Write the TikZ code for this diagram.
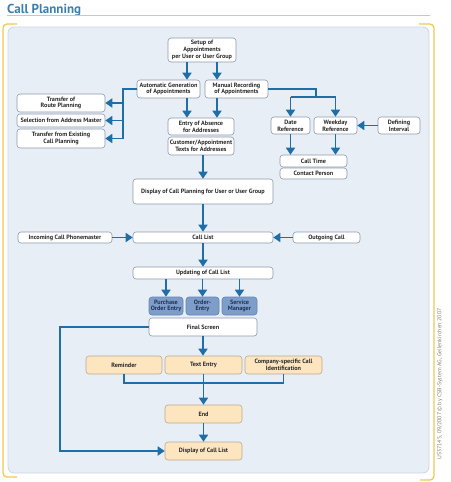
\documentclass[tikz,border=0pt]{standalone}
\usepackage{fontspec}
\setmainfont{PT Sans}
\usepackage{xcolor}
\usetikzlibrary{arrows.meta,positioning,calc}
\definecolor{flowblue}{HTML}{1F6EA8}
\definecolor{titleblue}{HTML}{3C7FAF}
\definecolor{framey}{HTML}{F0C94E}
\definecolor{panelbg}{HTML}{E8EEF6}
\definecolor{panelline}{HTML}{CCD5E0}
\definecolor{boxline}{HTML}{8E9AAB}
\definecolor{boxtext}{HTML}{2A2A2A}
\definecolor{modfill}{HTML}{7E9DC9}
\definecolor{modline}{HTML}{6285B3}
\definecolor{modtext}{HTML}{1F3358}
\definecolor{endfill}{HTML}{FCE5BF}
\definecolor{endline}{HTML}{B8AB90}

\begin{document}
\begin{tikzpicture}[x=1pt, y=-1pt,
  box/.style={draw=boxline, fill=white, rounded corners=3pt, line width=0.6pt, align=center, inner sep=0.5pt,
    text=boxtext, font=\fontsize{6.2}{6.8}\selectfont\bfseries},
  sz/.style 2 args={minimum width=#1pt, minimum height=#2pt},
  modbox/.style={box, draw=modline, fill=modfill, text=modtext},
  endbox/.style={box, draw=endline, fill=endfill},
  flow/.style={draw=flowblue, line width=1.7pt},
  arr/.style={flow, -{Triangle[length=7pt,width=9pt]}}]
  \useasboundingbox (0,0) rectangle (450,482);
  \node[anchor=base west, inner sep=0, text=titleblue, font=\fontsize{13}{14}\selectfont\bfseries] (title) at (7,13) {Call Planning};
  \draw[framey, line width=0.5pt] (7,15.5) -- (430,15.5);
  \draw[framey, line width=1.3pt, rounded corners=4pt] (17,24) -- (3,24) -- (3,477) -- (17,477);
  \draw[framey, line width=1.3pt, rounded corners=4pt] (419,24) -- (434,24) -- (434,480) -- (420,480);
  \draw[panelline, fill=panelbg, line width=0.8pt, rounded corners=6pt] (8,27) rectangle (429,473);
  \node[rotate=90, text=black!50, font=\fontsize{5.8}{6}\selectfont] (credit) at (440,384) {US37145, 09/2007 \textcopyright{} by CSB-System AG, Geilenkirchen 2007};

  \node[box, sz={68}{24}] (setup) at (202,50) {Setup of\\Appointments\\per User or User Group};
  \node[box, sz={63}{18}] (autogen) at (168.5,89) {Automatic Generation\\of Appointments};
  \node[box, sz={63}{18}] (manual) at (236.5,89) {Manual Recording\\of Appointments};
  \node[box, sz={88}{18}] (route) at (61,103) {Transfer of\\Route Planning};
  \node[box, sz={88}{13}] (addrmaster) at (61,120.5) {Selection from Address Master};
  \node[box, sz={88}{19}] (existing) at (61,138.5) {Transfer from Existing\\Call Planning};
  \node[box, sz={66}{17}] (absence) at (201,126.5) {Entry of Absence\\for Addresses};
  \node[box, sz={66}{18}] (custtext) at (201,146) {Customer/Appointment\\Texts for Addresses};
  \node[box, sz={39}{17}] (dateref) at (290.5,125.5) {Date\\Reference};
  \node[box, sz={43}{17}] (weekref) at (335.5,125.5) {Weekday\\Reference};
  \node[box, sz={42}{17}] (interval) at (399,125.5) {Defining\\Interval};
  \node[box, sz={67}{12}] (calltime) at (313.5,161) {Call Time};
  \node[box, sz={67}{11}] (contact) at (313.5,173.5) {Contact Person};
  \node[box, sz={140}{25}] (planview) at (203,191.5) {Display of Call Planning for User or User Group};
  \node[box, sz={140}{11}] (calllist) at (203,237.5) {Call List};
  \node[box, sz={94}{11}] (incoming) at (65,237.5) {Incoming Call Phonemaster};
  \node[box, sz={67}{11}] (outgoing) at (326.5,237.5) {Outgoing Call};
  \node[box, sz={140}{12}] (update) at (203,273) {Updating of Call List};
  \node[modbox, sz={34}{18}] (purchase) at (166,306) {Purchase\\Order Entry};
  \node[modbox, sz={33}{18}] (order) at (202.5,306) {Order-\\Entry};
  \node[modbox, sz={35}{18}] (service) at (239.5,306) {Service\\Manager};
  \node[box, sz={108}{18}] (final) at (203,327) {Final Screen};
  \node[endbox, sz={76}{18}] (reminder) at (124,365) {Reminder};
  \node[endbox, sz={77}{18}] (textentry) at (203.5,365) {Text Entry};
  \node[endbox, sz={77}{18}] (company) at (283.5,365) {Company-specific Call\\Identification};
  \node[endbox, sz={77}{18}] (end) at (203.5,414) {End};
  \node[endbox, sz={77}{18}] (listview) at (203.5,451) {Display of Call List};

  \coordinate (lbus) at (123,89);
  \coordinate (rbus) at (316,97);
  \coordinate (bbus) at (203.5,383);

  \draw[arr] ([xshift=-15pt]setup.south) -- ([xshift=-15pt]setup.south |- autogen.north);
  \draw[arr] ([xshift=15pt]setup.south) -- ([xshift=15pt]setup.south |- manual.north);
  \draw[arr] ([xshift=-14pt]absence.north |- autogen.south) -- ([xshift=-14pt]absence.north);
  \draw[arr] ([xshift=16pt]absence.north |- manual.south) -- ([xshift=16pt]absence.north);
  \draw[flow] (autogen.west) -- (lbus) -- (lbus |- existing.east);
  \foreach \n in {route,addrmaster,existing}
    \draw[arr] (lbus |- \n.east) -- (\n.east);
  \draw[flow] (manual.east) -| (rbus);
  \draw[flow] (rbus -| dateref.north) -- (rbus -| weekref.north);
  \foreach \n in {dateref,weekref}
    { \draw[arr] (rbus -| \n.north) -- (\n.north);
      \draw[arr] (\n.south) -- (\n.south |- calltime.north); }
  \draw[arr] (interval.west) -- (weekref.east);
  \draw[arr] (custtext.south -| planview.north) -- (planview.north);
  \draw[arr] (planview.south) -- (calllist.north);
  \draw[arr] (incoming.east) -- (calllist.west);
  \draw[arr] (outgoing.west) -- (calllist.east);
  \draw[arr] (calllist.south) -- (update.north);
  \foreach \n in {purchase,order,service}
    \draw[arr] (\n.north |- update.south) -- (\n.north);
  \draw[arr] (final.south) -- (final.south |- textentry.north);
  \draw[flow] (reminder.south) |- (bbus) -| (company.south);
  \draw[arr] (textentry.south) -- (end.north);
  \draw[arr] (end.south) -- (listview.north);
  \draw[arr] (final.west) -- ++(-89,0) |- (listview.west);
\end{tikzpicture}
\end{document}
